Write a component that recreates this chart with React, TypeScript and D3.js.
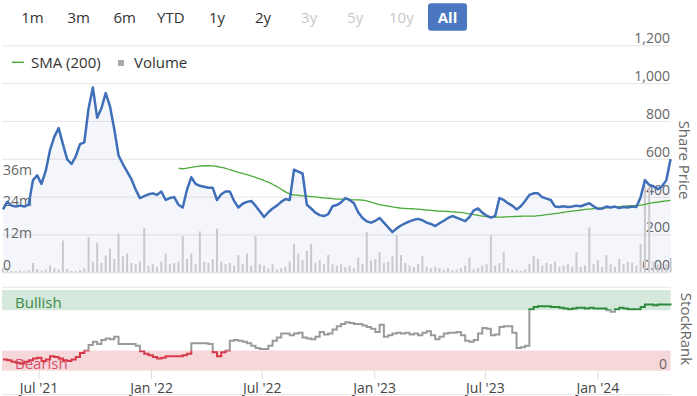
import React, { useRef, useEffect } from "react";
import * as d3 from "d3";

// weekly samples, first one on 3 May 2021
const START_DATE = "2021-05-03";
const STEP_DAYS = 7;

const price = [
  335, 375, 355, 350, 355, 350, 360, 490, 515, 470, 540, 650, 720, 765, 680, 600,
  575, 615, 680, 690, 870, 980, 820, 870, 950, 880, 760, 620, 575, 535, 495, 440,
  395, 405, 415, 420, 412, 430, 385, 395, 400, 360, 345, 440, 505, 470, 460, 455,
  450, 450, 385, 415, 430, 430, 380, 345, 365, 375, 380, 355, 325, 295, 320, 340,
  355, 375, 390, 385, 545, 535, 525, 360, 340, 318, 305, 300, 310, 352, 358, 372,
  395, 385, 368, 320, 290, 272, 265, 275, 290, 265, 240, 215, 235, 250, 262, 272,
  280, 285, 278, 265, 258, 247, 262, 275, 290, 300, 292, 282, 273, 295, 330, 340,
  318, 302, 292, 300, 395, 385, 368, 355, 335, 352, 380, 412, 420, 420, 400, 392,
  385, 350, 348, 352, 348, 350, 355, 352, 360, 368, 352, 338, 340, 350, 345, 350,
  342, 348, 345, 350, 348, 400, 490, 465, 458, 442, 458, 490, 602,
];

// SMA (200) only starts once enough history exists
const SMA_START = 41;
const sma200 = [
  553, 550, 553, 557, 561, 564, 566, 566, 565, 562, 557, 552, 545, 538, 531, 525,
  519, 512, 505, 497, 488, 479, 468, 455, 442, 428, 416, 412, 410, 407, 405, 403,
  401, 398, 396, 394, 392, 390, 389, 388, 387, 386, 385, 384, 380, 373, 367, 361,
  356, 352, 348, 345, 342, 340, 339, 338, 336, 334, 332, 330, 328, 326, 325, 324,
  322, 321, 319, 316, 312, 308, 304, 300, 297, 295, 294, 294, 295, 296, 297, 298,
  299, 300, 300, 300, 302, 304, 307, 310, 313, 316, 320, 323, 326, 329, 332, 335,
  337, 339, 341, 343, 344, 346, 348, 350, 352, 354, 355, 356, 358, 362, 367, 371,
  374, 377, 380, 383,
];

// millions of shares
const volume = [
  1.5, 0.8, 0.5, 0.4, 0.5, 0.4, 0.8, 3.5, 1.2, 0.6, 1.0, 2.5, 1.5, 1.0, 12.0, 1.2,
  0.5, 0.4, 0.8, 1.5, 13.3, 4.0, 11.2, 3.5, 6.3, 8.9, 5.0, 14.6, 6.0, 7.0, 3.5, 3.0,
  4.0, 16.8, 2.5, 3.0, 2.0, 4.0, 7.0, 3.0, 3.5, 4.0, 13.7, 5.0, 7.0, 3.0, 15.5, 4.0,
  3.5, 5.0, 16.5, 4.0, 3.0, 3.5, 2.5, 6.5, 3.0, 7.0, 2.5, 13.7, 3.0, 2.5, 1.5, 3.0,
  1.0, 1.5, 2.0, 4.0, 10.8, 7.0, 4.5, 8.0, 10.8, 3.5, 4.5, 3.0, 6.5, 3.0, 2.5, 3.0,
  2.0, 2.5, 1.5, 5.5, 3.0, 15.2, 4.5, 5.0, 7.6, 3.5, 4.0, 6.0, 14.0, 6.5, 3.5, 2.5,
  2.0, 3.0, 6.0, 2.0, 1.5, 2.0, 1.5, 1.0, 1.5, 0.8, 1.0, 1.5, 2.5, 5.5, 1.0, 1.5,
  2.5, 3.0, 14.0, 2.5, 3.5, 7.5, 1.5, 1.0, 0.8, 0.5, 1.0, 3.0, 6.0, 5.0, 2.5, 3.5,
  3.0, 4.0, 2.0, 2.5, 3.0, 2.0, 7.5, 2.0, 2.5, 17.0, 3.0, 4.5, 2.0, 6.5, 3.0, 2.0,
  5.0, 3.0, 4.0, 3.5, 2.5, 10.7, 33.0, 32.0, 4.0, 3.0, 2.0, 3.0, 5.5,
];

// StockRank 0-100
const stockRank = [
  14, 13, 11, 10, 9, 11, 13, 15, 16, 12, 14, 18, 17, 15, 13, 12,
  14, 17, 22, 25, 32, 36, 33, 38, 40, 39, 42, 33, 33, 33, 33, 31,
  24, 21, 19, 17, 15, 16, 18, 18, 18, 18, 19, 21, 34, 34, 34, 34,
  33, 23, 18, 23, 25, 37, 38, 37, 36, 34, 31, 28, 27, 27, 31, 37,
  41, 46, 46, 44, 46, 47, 41, 40, 39, 42, 48, 45, 46, 51, 55, 58,
  60, 59, 58, 58, 56, 54, 52, 48, 57, 42, 44, 46, 47, 46, 47, 45,
  46, 44, 47, 49, 44, 39, 42, 46, 47, 47, 48, 44, 37, 36, 38, 46,
  53, 52, 44, 45, 54, 55, 55, 47, 28, 29, 31, 76, 79, 80, 80, 80,
  79, 79, 78, 77, 76, 77, 78, 78, 77, 78, 77, 77, 77, 75, 73, 76,
  78, 77, 76, 76, 76, 79, 82, 82, 81, 82, 82, 82, 81,
];

const rangeButtons = ["1m", "3m", "6m", "YTD", "1y", "2y", "3y", "5y", "10y", "All"];
const disabledButtons = ["3y", "5y", "10y"];
const activeButton = "All";

const priceTicks = [0, 200, 400, 600, 800, 1000, 1200];
const volumeTicks = [0, 12, 24, 36];
const dateTicks = ["2021-07-01", "2022-01-01", "2022-07-01", "2023-01-01", "2023-07-01", "2024-01-01"];
const bearishBand = [0, 25];
const bullishBand = [75, 100];

const FONT = "'Open Sans', 'Noto Sans', sans-serif";

const App = () => {
  const svgRef = useRef(null);

  useEffect(() => {
    const svg = d3.select(svgRef.current);
    svg.selectAll("*").remove();

    const left = 3;
    const right = 670.6;
    const parse = d3.utcParse("%Y-%m-%d");
    const start = parse(START_DATE);
    const dates = price.map((_, i) => d3.utcDay.offset(start, i * STEP_DAYS));

    const x = d3.scaleUtc().domain([dates[0], dates[dates.length - 1]]).range([left, right]);
    const y = d3.scaleLinear().domain([0, 1200]).range([272.8, 45.8]);
    const yVol = d3.scaleLinear().domain([0, 36]).range([272.2, 177.2]);
    const yRank = d3.scaleLinear().domain([0, 100]).range([370.7, 290]);

    // range selector
    const bx = d3.scalePoint().domain(rangeButtons).range([32.5, 447.5]);
    const btn = svg.append("g").attr("font-family", FONT).attr("font-size", 15);
    btn
      .append("rect")
      .attr("x", bx(activeButton) - 19.5)
      .attr("y", 3.3)
      .attr("width", 39)
      .attr("height", 27.4)
      .attr("rx", 3)
      .attr("fill", "#4a77bf");
    btn
      .selectAll("text")
      .data(rangeButtons)
      .enter()
      .append("text")
      .attr("x", (d) => bx(d))
      .attr("y", 22.5)
      .attr("text-anchor", "middle")
      .attr("font-weight", (d) => (d === activeButton ? "bold" : "normal"))
      .attr("fill", (d) => (d === activeButton ? "#fff" : disabledButtons.includes(d) ? "#c8c8c8" : "#333"))
      .text((d) => d);

    // price grid + labels
    const grid = svg.append("g");
    grid
      .selectAll("line")
      .data(priceTicks)
      .enter()
      .append("line")
      .attr("x1", 2)
      .attr("x2", right)
      .attr("y1", (d) => y(d))
      .attr("y2", (d) => y(d))
      .attr("stroke", "#e6e6e6");
    grid
      .selectAll("text")
      .data(priceTicks)
      .enter()
      .append("text")
      .attr("x", 670)
      .attr("y", (d) => y(d) - 2.5)
      .attr("text-anchor", "end")
      .attr("font-family", FONT)
      .attr("font-size", 14)
      .attr("fill", "#666")
      .text((d) => (d === 0 ? "0.00" : d3.format(",")(d)));

    // price area
    const area = d3
      .area()
      .x((_, i) => x(dates[i]))
      .y0(y(0))
      .y1((d) => y(d));
    svg.append("path").datum(price).attr("d", area).attr("fill", "rgba(61,110,181,0.06)");

    // volume bars
    svg
      .append("g")
      .selectAll("rect")
      .data(volume)
      .enter()
      .append("rect")
      .attr("x", (_, i) => x(dates[i]) - 1)
      .attr("y", (d) => yVol(d))
      .attr("width", 2)
      .attr("height", (d) => yVol(0) - yVol(d))
      .attr("fill", "#c9c9ce");

    // volume labels
    svg
      .append("g")
      .selectAll("text")
      .data(volumeTicks)
      .enter()
      .append("text")
      .attr("x", 3)
      .attr("y", (d) => yVol(d) - 2.5)
      .attr("font-family", FONT)
      .attr("font-size", 14)
      .attr("fill", "#666")
      .text((d) => (d === 0 ? "0" : d + "m"));

    // SMA
    const smaLine = d3
      .line()
      .x((_, i) => x(dates[i + SMA_START]))
      .y((d) => y(d))
      .curve(d3.curveMonotoneX);
    svg
      .append("path")
      .datum(sma200)
      .attr("d", smaLine)
      .attr("fill", "none")
      .attr("stroke", "#4cab3a")
      .attr("stroke-width", 1.3);

    // price line
    const priceLine = d3
      .line()
      .x((_, i) => x(dates[i]))
      .y((d) => y(d));
    svg
      .append("path")
      .datum(price)
      .attr("d", priceLine)
      .attr("fill", "none")
      .attr("stroke", "#3f6fb8")
      .attr("stroke-width", 2.5)
      .attr("stroke-linejoin", "round");

    // legend
    const lg = svg.append("g").attr("font-family", FONT).attr("font-size", 15).attr("fill", "#333");
    lg.append("line").attr("x1", 12).attr("x2", 24).attr("y1", 62.3).attr("y2", 62.3).attr("stroke", "#4cab3a").attr("stroke-width", 1.5);
    lg.append("text").attr("x", 31).attr("y", 67.5).text("SMA (200)");
    lg.append("rect").attr("x", 118).attr("y", 60).attr("width", 6).attr("height", 6).attr("fill", "#aaa");
    lg.append("text").attr("x", 134).attr("y", 67.5).text("Volume");

    svg
      .append("text")
      .attr("transform", "translate(679,160) rotate(90)")
      .attr("text-anchor", "middle")
      .attr("font-family", FONT)
      .attr("font-size", 15)
      .attr("fill", "#666")
      .text("Share Price");

    // StockRank panel
    svg.append("line").attr("x1", 2).attr("x2", right).attr("y1", 287.3).attr("y2", 287.3).attr("stroke", "#e6e6e6");
    svg
      .append("rect")
      .attr("x", 2)
      .attr("width", right - 2)
      .attr("y", yRank(bullishBand[1]))
      .attr("height", yRank(bullishBand[0]) - yRank(bullishBand[1]))
      .attr("fill", "#d4e8dc");
    svg
      .append("rect")
      .attr("x", 2)
      .attr("width", right - 2)
      .attr("y", yRank(bearishBand[1]))
      .attr("height", yRank(bearishBand[0]) - yRank(bearishBand[1]))
      .attr("fill", "#f6d7da");
    svg
      .append("text")
      .attr("x", 15)
      .attr("y", 308)
      .attr("font-family", FONT)
      .attr("font-size", 15)
      .attr("fill", "#3d8b46")
      .text("Bullish");
    svg
      .append("text")
      .attr("x", 15)
      .attr("y", 369)
      .attr("font-family", FONT)
      .attr("font-size", 15)
      .attr("fill", "#d9506a")
      .text("Bearish");
    svg
      .append("text")
      .attr("x", 667)
      .attr("y", 368.5)
      .attr("text-anchor", "end")
      .attr("font-family", FONT)
      .attr("font-size", 14)
      .attr("fill", "#666")
      .text("0");

    // rank line coloured by zone via clip paths
    const defs = svg.append("defs");
    const zones = [
      { id: "zone-bull", y0: 0, y1: yRank(bullishBand[0]), color: "#2e8b3c" },
      { id: "zone-mid", y0: yRank(bullishBand[0]), y1: yRank(bearishBand[1]), color: "#9a9a9a" },
      { id: "zone-bear", y0: yRank(bearishBand[1]), y1: 396, color: "#d63a4a" },
    ];
    zones.forEach((z) => {
      defs
        .append("clipPath")
        .attr("id", z.id)
        .append("rect")
        .attr("x", 0)
        .attr("y", z.y0)
        .attr("width", 697)
        .attr("height", z.y1 - z.y0);
    });
    const rankLine = d3
      .line()
      .x((_, i) => x(dates[i]))
      .y((d) => yRank(d))
      .curve(d3.curveStepAfter);
    zones.forEach((z) => {
      svg
        .append("path")
        .datum(stockRank)
        .attr("d", rankLine)
        .attr("clip-path", `url(#${z.id})`)
        .attr("fill", "none")
        .attr("stroke", z.color)
        .attr("stroke-width", 2);
    });

    svg
      .append("text")
      .attr("transform", "translate(681,329) rotate(90)")
      .attr("text-anchor", "middle")
      .attr("font-family", FONT)
      .attr("font-size", 15)
      .attr("fill", "#666")
      .text("StockRank");

    // x axis
    const ticks = dateTicks.map((d) => parse(d));
    const xa = svg.append("g");
    xa.selectAll("line")
      .data(ticks)
      .enter()
      .append("line")
      .attr("x1", (d) => x(d))
      .attr("x2", (d) => x(d))
      .attr("y1", 370.7)
      .attr("y2", 379)
      .attr("stroke", "#dcdcdc");
    xa.selectAll("text")
      .data(ticks)
      .enter()
      .append("text")
      .attr("x", (d) => x(d))
      .attr("y", 392.5)
      .attr("text-anchor", "middle")
      .attr("font-family", FONT)
      .attr("font-size", 14)
      .attr("fill", "#444")
      .text((d) => d3.utcFormat("%b '%y")(d));
    svg.append("line").attr("x1", 2).attr("x2", right).attr("y1", 394.5).attr("y2", 394.5).attr("stroke", "#e6e6e6");
  }, []);

  return (
    <div style={{ position: "absolute", left: 0, top: 0 }}>
      <svg ref={svgRef} width={697} height={396} style={{ display: "block", background: "#fff" }}></svg>
    </div>
  );
};

export default App;
